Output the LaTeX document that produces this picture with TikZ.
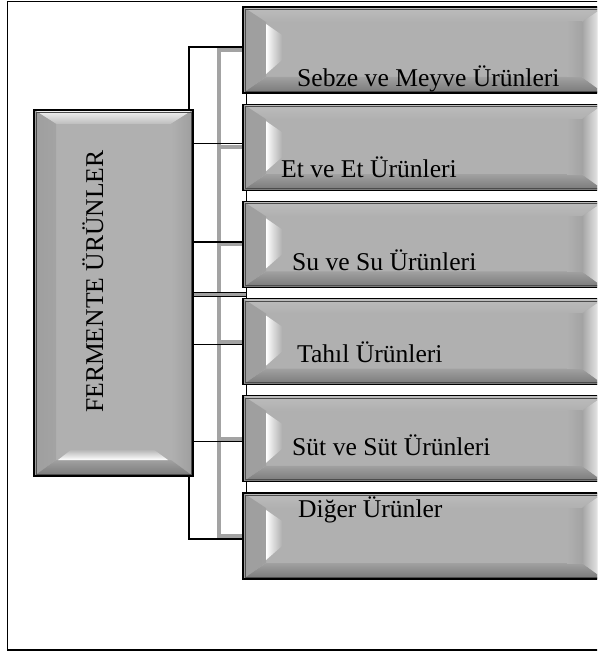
\documentclass[tikz,border=0pt]{standalone}
\usepackage{fontspec}
\setmainfont{Liberation Serif}
\usetikzlibrary{calc}

\definecolor{face}{gray}{0.69}
\definecolor{linkgray}{gray}{0.64}
\definecolor{bvtop}{gray}{0.74}
\definecolor{bvside}{gray}{0.62}
\definecolor{bvlow}{gray}{0.63}
\definecolor{bvdeep}{gray}{0.47}
\definecolor{bvedge}{gray}{0.64}

% bevel art for the wide category boxes (glint on the left, lit right edge)
\newcommand\hbevelart{%
  \coordinate (pA) at (path picture bounding box.north west);
  \coordinate (pB) at (path picture bounding box.south east);
  \path (pA) ++(23pt,-15pt) coordinate (fA);
  \path (pB) ++(-22pt,16pt) coordinate (fB);
  \fill[top color=bvtop, bottom color=face] (pA) -- (pA -| pB) -- (fA -| fB) -- (fA) -- cycle;
  \fill[left color=bvside, right color=bvside!90!face] (pA) -- (fA) -- (fA |- fB) -- (pA |- pB) -- cycle;
  \fill[top color=bvlow, bottom color=bvdeep] (pA |- pB) -- (fA |- fB) -- (fB) -- (pB) -- cycle;
  \fill[left color=face, right color=bvedge] ($(fA -| fB)+(-15pt,0)$) rectangle (fB);
  \fill[left color=bvedge, right color=white] (pA -| pB) -- (pB) -- (fB) -- (fA -| fB) -- cycle;
  \fill[left color=white, right color=face] ($(fA)+(0,-2pt)$) -- ($(fA)+(16pt,-13pt)$) -- ($(fA |- fB)+(16pt,17pt)$) -- ($(fA |- fB)+(0,3pt)$) -- cycle;
  \draw[gray!60!black, line width=0.5pt] ($(pA)+(2.2pt,-2.2pt)$) rectangle ($(pB)+(-2.2pt,2.2pt)$);
}

% bevel art for the tall title box (lit top, glint at the bottom)
\newcommand\vbevelart{%
  \coordinate (pA) at (path picture bounding box.north west);
  \coordinate (pB) at (path picture bounding box.south east);
  \path (pA) ++(22pt,-14pt) coordinate (fA);
  \path (pB) ++(-22pt,16pt) coordinate (fB);
  \fill[top color=gray!8!white, bottom color=bvtop] (pA) -- (pA -| pB) -- (fA -| fB) -- (fA) -- cycle;
  \fill[left color=bvside, right color=bvside!70!face] (pA) -- (fA) -- (fA |- fB) -- (pA |- pB) -- cycle;
  \fill[left color=face, right color=bvside] (pA -| pB) -- (pB) -- (fB) -- (fA -| fB) -- cycle;
  \fill[top color=bvlow, bottom color=bvdeep] (pA |- pB) -- (fA |- fB) -- (fB) -- (pB) -- cycle;
  \fill[top color=face, bottom color=white] ($(fA |- fB)+(2pt,0)$) -- ($(fB)+(-3pt,0)$) -- ($(fB)+(-18pt,11pt)$) -- ($(fA |- fB)+(16pt,11pt)$) -- cycle;
  \draw[gray!60!black, line width=0.5pt] ($(pA)+(2.2pt,-2.2pt)$) rectangle ($(pB)+(-2.2pt,2.2pt)$);
}

\tikzset{
  slot/.style={minimum width=361pt, minimum height=86pt, inner sep=0pt},
  catbox/.style={slot, draw=black, line width=1.1pt, fill=face, path picture={\hbevelart}},
  titlebox/.style={draw=black, line width=1.1pt, fill=face, inner sep=0pt,
    minimum width=159pt, minimum height=366pt, path picture={\vbevelart}},
  lbl/.style={font=\fontsize{25.6}{30}\selectfont, inner sep=0pt, anchor=base west},
  blackline/.style={draw=black, line width=1.2pt},
  graylink/.style={draw=linkgray, line width=4pt},
}

\begin{document}
\begin{tikzpicture}[x=1pt,y=-1pt]
\useasboundingbox (0,0) rectangle (597,652);
\clip (0,0) rectangle (597,652);

% outer frame
\draw[line width=1.6pt] (640,1.5) -- (7.5,1.5) -- (7.5,650) -- (640,650);

% trunk positions
\coordinate (tk) at (189,300);
\coordinate (gk) at (218.5,300);

% category box slots (anchors for the connectors)
\path
  (423.5, 50.0) node[slot] (b1) {}
  (423.5,147.2) node[slot] (b2) {}
  (423.5,244.4) node[slot] (b3) {}
  (423.5,341.6) node[slot] (b4) {}
  (423.5,438.8) node[slot] (b5) {}
  (423.5,536.0) node[slot] (b6) {};

% attachment points of the black connectors
\coordinate (e1) at ([yshift=3pt]b1.west);
\coordinate (e2) at ([yshift=3.5pt]b2.west);
\coordinate (e3) at ([yshift=2.5pt]b3.west);
\coordinate (e4) at ([yshift=-3pt]b4.west);
\coordinate (e5) at ([yshift=-3pt]b5.west);
\coordinate (e6) at ([yshift=-3pt]b6.west);

% gray connector tree
\draw[graylink] (b1.west) -| (gk |- b6.west) -- (b6.west);
\foreach \k in {2,3,4,5} { \draw[graylink] (gk |- b\k.west) -- (b\k.west); }

% black trunk
\draw[blackline] (e1) -| (tk |- e6) -- (e6);

% rail behind the column of boxes
\draw[blackline] ([xshift=4pt]b1.south west) -- ([xshift=4pt]b6.north west);

% title box
\node[titlebox] (fe) at (113.5,293) {};
\node[lbl, rotate=90] (fet) at (103,413) {FERMENTE ÜRÜNLER};

% bar at the middle of the title box
\draw[black, line width=0.9pt, fill=gray!75!white] (fe.east |- 0,292) rectangle ([xshift=4pt]b4.north west |- 0,296);

% black branches from the title box
\foreach \k in {2,3,4,5} { \draw[blackline] (fe.east |- e\k) -- (e\k); }

% category boxes
\foreach \k in {1,...,6} { \node[catbox] at (b\k) {}; }

% labels
\node[lbl] (t1) at (297,87)  {Sebze ve Meyve Ürünleri};
\node[lbl] (t2) at (281,178) {Et ve Et Ürünleri};
\node[lbl] (t3) at (292,270) {Su ve Su Ürünleri};
\node[lbl] (t4) at (297,362) {Tahıl Ürünleri};
\node[lbl] (t5) at (292,455) {Süt ve Süt Ürünleri};
\node[lbl] (t6) at (298,517) {Diğer Ürünler};
\end{tikzpicture}
\end{document}
